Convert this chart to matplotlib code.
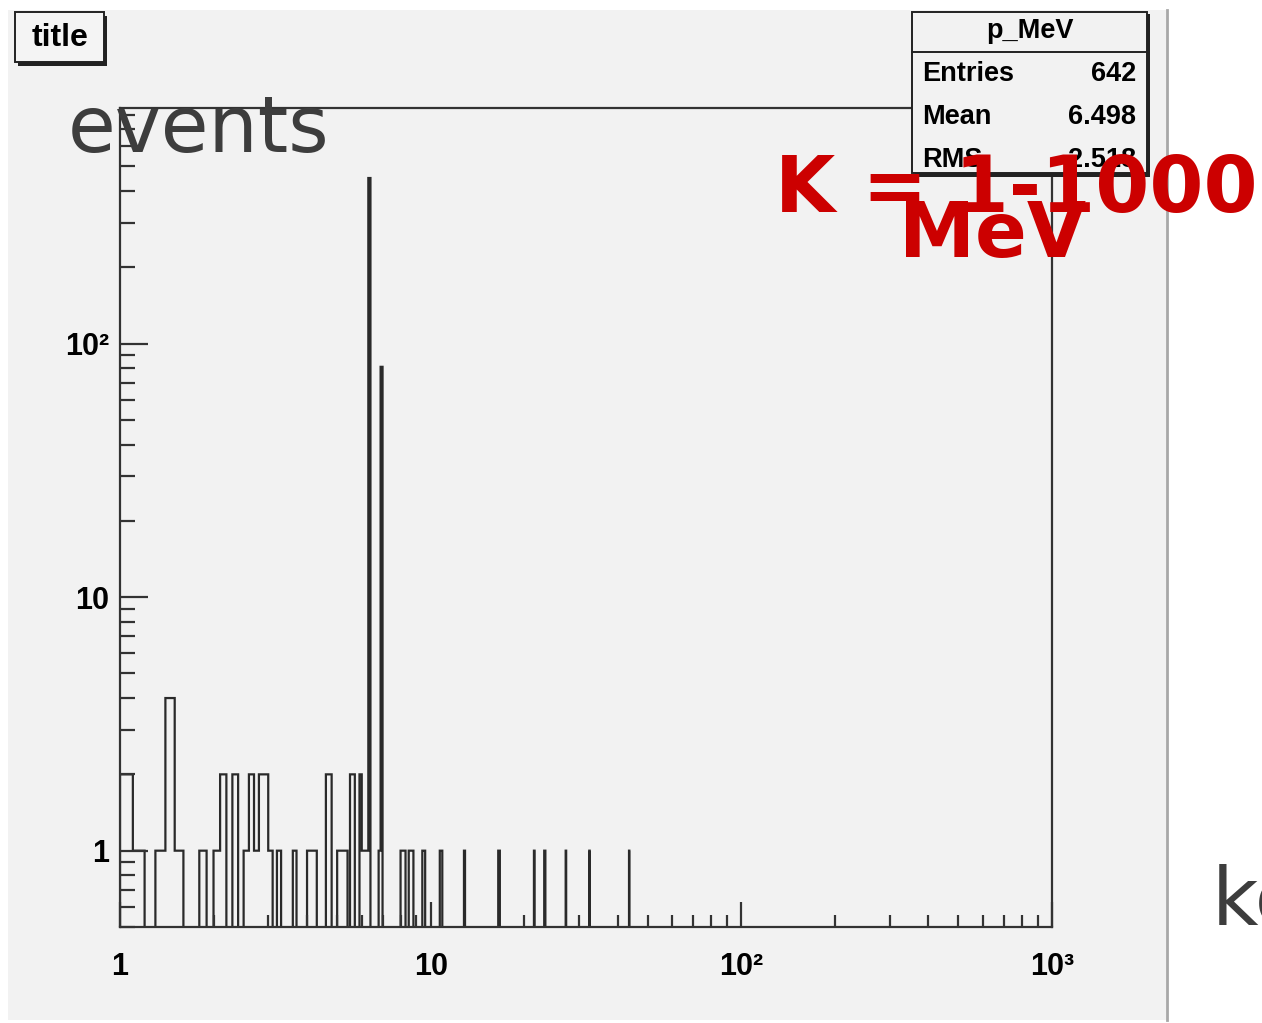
import numpy as np
import matplotlib
import matplotlib.pyplot as plt
from matplotlib.patches import Rectangle
from matplotlib.lines import Line2D
from matplotlib.ticker import FixedLocator, FixedFormatter, LogLocator, NullFormatter

plt.rcParams['path.simplify'] = False

# p_MeV histogram, 0.1 MeV wide bins: lower edge of each filled bin and its entries
bin_lo = [1.0, 1.1, 1.3, 1.4, 1.5, 1.8, 2.0, 2.1, 2.3, 2.5, 2.6, 2.7, 2.8, 2.9, 3.0,
          3.2, 3.6, 4.0, 4.1, 4.2, 4.6, 4.7, 5.0, 5.1, 5.2, 5.3, 5.5, 5.6, 5.9, 6.0,
          6.1, 6.2, 6.3, 6.8, 6.9, 8.0, 8.1, 8.2, 8.5, 8.6, 8.7, 9.4, 9.5, 10.7, 10.8,
          12.8, 16.5, 16.6, 21.5, 23.2, 23.3, 27.2, 32.4, 43.5]
bin_n = [2, 1, 1, 4, 1, 1, 1, 2, 2, 1, 2, 1, 2, 2, 1,
         1, 1, 1, 1, 1, 2, 2, 1, 1, 1, 1, 2, 2, 2, 1,
         1, 1, 450, 1, 81, 1, 1, 1, 1, 1, 1, 1, 1, 1, 1,
         1, 1, 1, 1, 1, 1, 1, 1, 1]

x_ticks = [1, 10, 100, 1000]
x_ticklabels = ['1', '10', '10²', '10³']
y_ticks = [1, 10, 100]
y_ticklabels = ['1', '10', '10²']

stats_names = ['Entries', 'Mean', 'RMS']
stats_values = ['642', '6.498', '2.518']

W, H = 1262, 1023


def fx(px):
    return px / W


def fy(py):
    return 1 - py / H


# full binning 1..1000 MeV, 0.1 MeV per bin
edges = np.arange(10, 10001) / 10.0
counts = np.full(len(edges) - 1, 1e-3)
for lo, n in zip(bin_lo, bin_n):
    counts[int(round(lo * 10)) - 10] = n

fig = plt.figure(figsize=(W / 100, H / 100), dpi=100)
fig.patch.set_facecolor('white')

# grey canvas of the ROOT window
fig.add_artist(Rectangle((fx(8), fy(1020)), fx(1167 - 8), (1020 - 10) / H,
                         transform=fig.transFigure, facecolor='#f2f2f2',
                         edgecolor='none', zorder=-5))
fig.add_artist(Line2D([fx(1167), fx(1167)], [fy(1020), fy(10)],
                      transform=fig.transFigure, color='#a8a8a8', lw=2, zorder=-4))

ax = fig.add_axes([fx(120), fy(927), fx(1052 - 120), (927 - 108) / H])
ax.set_facecolor('#f2f2f2')
ax.set_xscale('log')
ax.set_yscale('log')
ax.stairs(counts, edges, baseline=1e-3, color='#2a2a2a', lw=1.6)
ax.set_xlim(1, 1000)
ax.set_ylim(0.5, 850)

for s in ax.spines.values():
    s.set_color('#333333')
    s.set_linewidth(1.6)

ax.xaxis.set_major_locator(FixedLocator(x_ticks))
ax.xaxis.set_major_formatter(FixedFormatter(x_ticklabels))
ax.yaxis.set_major_locator(FixedLocator(y_ticks))
ax.yaxis.set_major_formatter(FixedFormatter(y_ticklabels))
ax.xaxis.set_minor_locator(LogLocator(base=10, subs=np.arange(2, 10)))
ax.yaxis.set_minor_locator(LogLocator(base=10, subs=np.arange(2, 10)))
ax.xaxis.set_minor_formatter(NullFormatter())
ax.yaxis.set_minor_formatter(NullFormatter())
ax.tick_params(which='both', direction='in', top=False, right=False, color='#333333', width=1.6)
ax.tick_params(axis='y', which='major', length=20, pad=8)
ax.tick_params(axis='y', which='minor', length=11)
ax.tick_params(axis='x', which='major', length=18, pad=18)
ax.tick_params(axis='x', which='minor', length=9)
for lab in ax.get_xticklabels() + ax.get_yticklabels():
    lab.set_fontfamily(['Liberation Sans', 'DejaVu Sans'])
    lab.set_fontweight('bold')
    lab.set_fontsize(22)

# title box
fig.add_artist(Rectangle((fx(18), fy(66)), fx(89), 50 / H, transform=fig.transFigure,
                         facecolor='#222222', edgecolor='none', zorder=4))
fig.add_artist(Rectangle((fx(15), fy(62)), fx(89), 50 / H, transform=fig.transFigure,
                         facecolor='#f4f4f4', edgecolor='#222222', lw=1.4, zorder=5))
fig.text(fx(60), fy(38), 'title', ha='center', va='center', fontsize=23,
         fontweight='bold', family=['Liberation Sans', 'DejaVu Sans'], zorder=6)

# stats box
fig.add_artist(Rectangle((fx(915), fy(177)), fx(235), 163 / H, transform=fig.transFigure,
                         facecolor='#222222', edgecolor='none', zorder=4))
fig.add_artist(Rectangle((fx(912), fy(173)), fx(235), 161 / H, transform=fig.transFigure,
                         facecolor='#f2f2f2', edgecolor='#222222', lw=1.4, zorder=5))
fig.add_artist(Line2D([fx(912), fx(1147)], [fy(52), fy(52)], transform=fig.transFigure,
                      color='#222222', lw=1.4, zorder=6))
stat_font = dict(fontsize=19.5, fontweight='bold', family=['Liberation Sans', 'DejaVu Sans'],
                 zorder=6)
fig.text(fx(1030), fy(31), 'p_MeV', ha='center', va='center', **stat_font)
for i, (nm, val) in enumerate(zip(stats_names, stats_values)):
    yy = fy(74 + 43 * i)
    fig.text(fx(922), yy, nm, ha='left', va='center', **stat_font)
    fig.text(fx(1136), yy, val, ha='right', va='center', **stat_font)

# overlaid slide annotations
fig.text(fx(68), fy(152), 'events', ha='left', va='baseline', fontsize=56,
         color='#3d3d3d', family='DejaVu Sans', zorder=8)
fig.text(fx(1212), fy(925), 'keV', ha='left', va='baseline', fontsize=58,
         color='#3d3d3d', family='DejaVu Sans', zorder=8)
fig.text(fx(775), fy(190), 'K = 1-1000', ha='left', va='center', fontsize=56,
         fontweight='bold', color='#cc0000', family='DejaVu Sans', zorder=9)
fig.text(fx(992), fy(236), 'MeV', ha='center', va='center', fontsize=55,
         fontweight='bold', color='#cc0000', family='DejaVu Sans', zorder=9)

fig.savefig('out.png', dpi=100)
